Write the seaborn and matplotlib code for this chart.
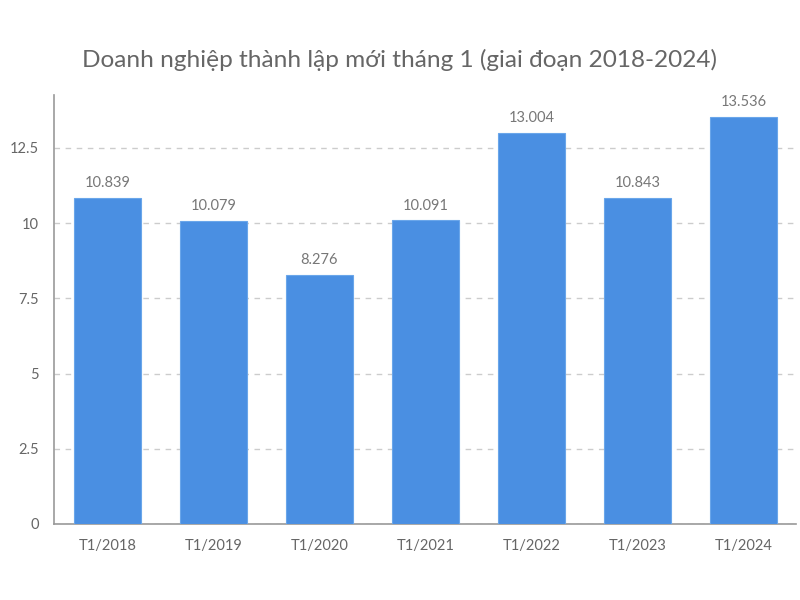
import matplotlib
matplotlib.use("Agg")
import matplotlib.pyplot as plt
import seaborn as sns
import pandas as pd

categories = ["T1/2018", "T1/2019", "T1/2020", "T1/2021", "T1/2022", "T1/2023", "T1/2024"]
values = [10.839, 10.079, 8.276, 10.091, 13.004, 10.843, 13.536]
value_labels = ["10.839", "10.079", "8.276", "10.091", "13.004", "10.843", "13.536"]
yticks = [0, 2.5, 5, 7.5, 10, 12.5]
ytick_labels = ["0", "2.5", "5", "7.5", "10", "12.5"]

sns.set_style("white")
plt.rcParams["font.family"] = ["Lato", "DejaVu Sans"]

df = pd.DataFrame({"cat": categories, "val": values})

fig = plt.figure(figsize=(8, 6), dpi=100)
ax = fig.add_axes([0.068, 0.1267, 0.9276, 0.715])

sns.barplot(data=df, x="cat", y="val", color="#4a8fe2", width=0.63,
            edgecolor="#6aa6ea", linewidth=0.8, saturation=1, ax=ax, zorder=3)

ax.set_xlim(-0.5, len(categories) - 0.5)
ax.set_ylim(0, 14.26)
ax.set_yticks(yticks)
ax.set_yticklabels(ytick_labels)
ax.set_xlabel("")
ax.set_ylabel("")

ax.yaxis.grid(True, linestyle=(0, (4, 4)), color="#cccccc", linewidth=1, zorder=0)
ax.xaxis.grid(False)
for s in ["top", "right"]:
    ax.spines[s].set_visible(False)
for s in ["left", "bottom"]:
    ax.spines[s].set_color("#999999")
    ax.spines[s].set_linewidth(1.2)

ax.tick_params(axis="both", length=0, labelsize=10.5, labelcolor="#666666")
ax.tick_params(axis="x", pad=11)
ax.tick_params(axis="y", pad=11)

for i, (v, lab) in enumerate(zip(values, value_labels)):
    ax.text(i, v + 0.25, lab, ha="center", va="bottom", fontsize=10.5, color="#777777")

fig.suptitle("Doanh nghiệp thành lập mới tháng 1 (giai đoạn 2018-2024)",
             y=0.918, fontsize=17.6, color="#666666")

fig.savefig("out.png", dpi=100)
